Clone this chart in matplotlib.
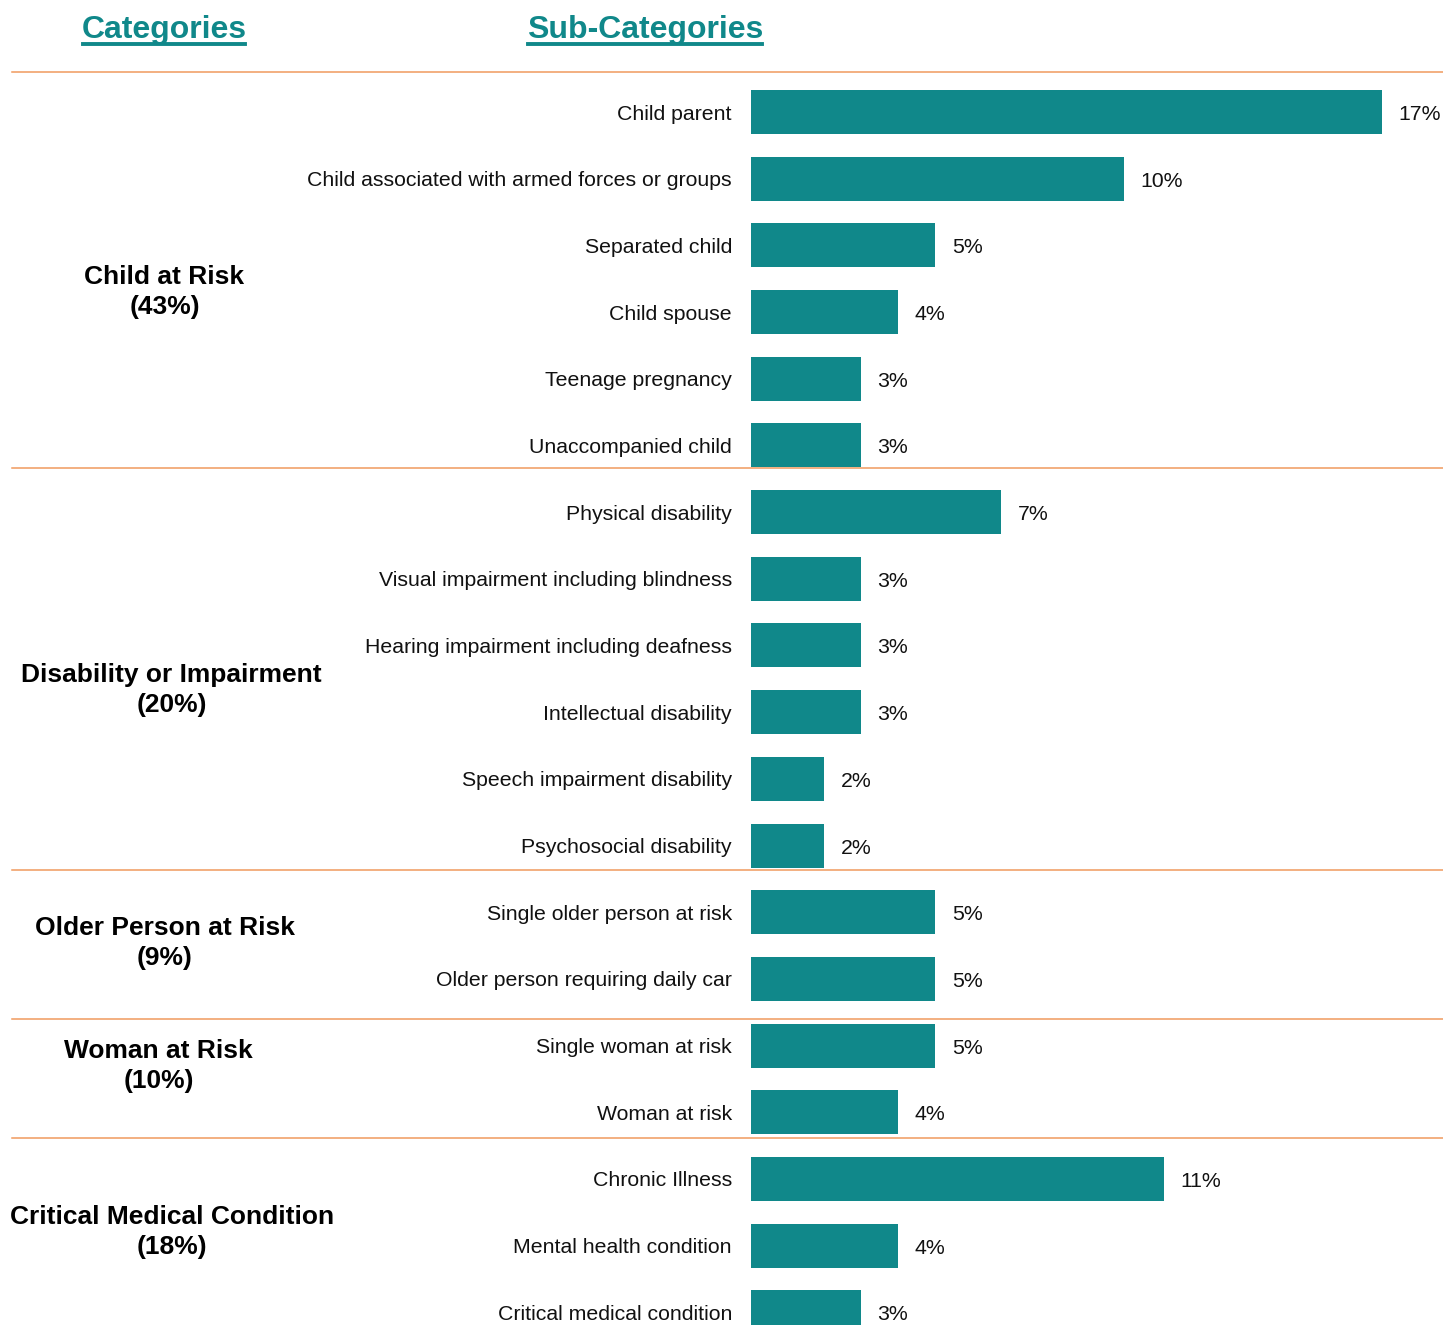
import matplotlib.pyplot as plt
from matplotlib.lines import Line2D
from matplotlib.transforms import blended_transform_factory

plt.rcParams['font.family'] = ['Liberation Sans', 'DejaVu Sans']

# data
sub_categories = [
    'Child parent', 'Child associated with armed forces or groups', 'Separated child',
    'Child spouse', 'Teenage pregnancy', 'Unaccompanied child',
    'Physical disability', 'Visual impairment including blindness',
    'Hearing impairment including deafness', 'Intellectual disability',
    'Speech impairment disability', 'Psychosocial disability',
    'Single older person at risk', 'Older person requiring daily car',
    'Single woman at risk', 'Woman at risk',
    'Chronic Illness', 'Mental health condition', 'Critical medical condition',
]
values = [17.0, 10.05, 4.96, 3.96, 2.96, 2.96,
          6.74, 2.96, 2.96, 2.96, 1.97, 1.97,
          4.96, 4.96,
          4.96, 3.96,
          11.13, 3.96, 2.96]
categories = ['Child at Risk\n(43%)', 'Disability or Impairment\n(20%)',
              'Older Person at Risk\n(9%)', 'Woman at Risk\n(10%)',
              'Critical Medical Condition\n(18%)']
cat_label_rows = [2.7, 8.67, 12.46, 14.3, 16.8]
cat_label_x = [0.114, 0.119, 0.114, 0.11, 0.119]
separator_rows = [-0.6, 5.34, 11.36, 13.6, 15.38]

teal = '#10888A'
orange = '#F09A5E'

W, H = 1443, 1325
fig = plt.figure(figsize=(W / 100, H / 100), dpi=100)
ax = fig.add_axes([751 / W, 0, 1 - 751 / W, 1 - 72 / H])

y = list(range(len(sub_categories)))
ax.barh(y, values, height=0.66, color=teal)
for yi, v in zip(y, values):
    ax.annotate(f'{v:.0f}%', (v, yi), xytext=(12, -1.8), textcoords='offset points',
                va='center', ha='left', fontsize=15.3, color='#111111')

ax.set_xlim(0, (W - 751) / 37.1)
ax.set_ylim(18.19, -0.6)
ax.set_yticks(y)
ax.set_yticklabels(sub_categories, fontsize=15.3, color='#111111')
ax.tick_params(axis='y', length=0, pad=13.7)
ax.set_xticks([])
for s in ax.spines.values():
    s.set_visible(False)

tr = blended_transform_factory(fig.transFigure, ax.transData)
for r in separator_rows:
    fig.add_artist(Line2D([12 / W, 1.0], [r, r], transform=tr, color=orange, lw=1.1))

for lab, r, x in zip(categories, cat_label_rows, cat_label_x):
    fig.text(x, r, lab, transform=tr, ha='center', va='center', fontsize=19,
             fontweight='bold', linespacing=1.32, color='#000000')

headers = [('Categories', 164), ('Sub-Categories', 645)]
hdr_texts = []
for txt, xc in headers:
    t = fig.text(xc / W, 1 - 38 / H, txt, ha='center', va='baseline', fontsize=23,
                 fontweight='bold', color=teal)
    hdr_texts.append(t)

fig.canvas.draw()
r = fig.canvas.get_renderer()
for t in hdr_texts:
    bb = t.get_window_extent(r)
    fig.add_artist(Line2D([bb.x0 / W + 0.001, bb.x1 / W - 0.001], [1 - 43.5 / H, 1 - 43.5 / H],
                          transform=fig.transFigure, color=teal, lw=2.8))

fig.savefig('out.png', dpi=100)
